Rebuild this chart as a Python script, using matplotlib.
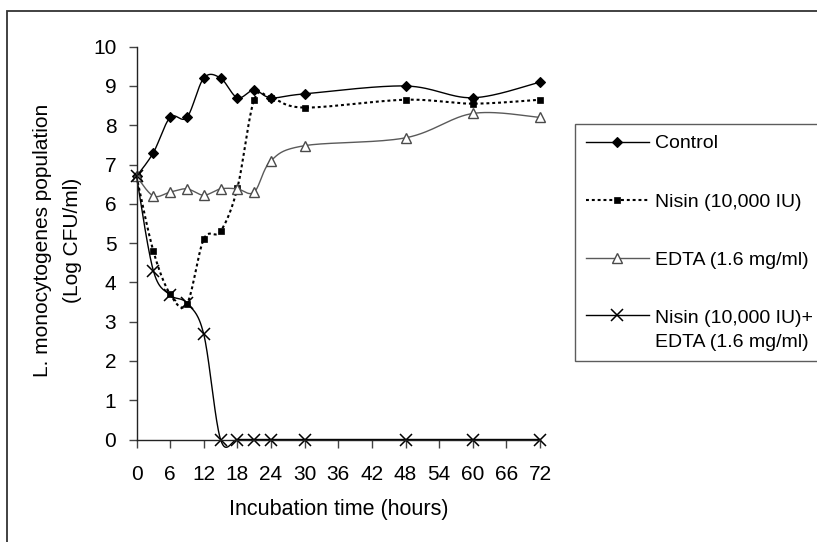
import numpy as np
import matplotlib
matplotlib.use('Agg')
import matplotlib.pyplot as plt
from matplotlib.patches import Rectangle

plt.rcParams['font.family'] = ['Liberation Sans', 'DejaVu Sans']

hours = [0, 3, 6, 9, 12, 15, 18, 21, 24, 30, 48, 60, 72]
control = [6.7, 7.3, 8.2, 8.2, 9.2, 9.2, 8.7, 8.9, 8.7, 8.8, 9.0, 8.7, 9.1]
nisin = [6.7, 4.8, 3.7, 3.45, 5.1, 5.3, 6.4, 8.65, 8.7, 8.45, 8.65, 8.55, 8.65]
edta = [6.7, 6.2, 6.3, 6.38, 6.22, 6.38, 6.38, 6.3, 7.1, 7.48, 7.68, 8.3, 8.2]
combo = [6.7, 4.3, 3.68, 3.47, 2.68, 0, 0, 0, 0, 0, 0, 0, 0]
series_labels = ['Control', 'Nisin (10,000 IU)', 'EDTA (1.6 mg/ml)',
                 'Nisin (10,000 IU)+\nEDTA (1.6 mg/ml)']
xticks = list(range(0, 73, 6))
yticks = list(range(0, 11))

W, H = 817, 542
fig = plt.figure(figsize=(W / 100, H / 100), dpi=100)
ax = fig.add_axes([136.5 / W, 1 - 439.5 / H, (540 - 136.5) / W, (439.5 - 46.7) / H])
ax.set_xlim(0, 72)
ax.set_ylim(0, 10)

# pixel scales used only to smooth the connecting curves (Excel-style)
SX = (540 - 136.5) / 72.0
SY = (439.5 - 46.7) / 10.0


def smooth(xs, ys, n=30):
    P = np.column_stack([np.asarray(xs, float) * SX, np.asarray(ys, float) * SY])
    m = len(P)
    out = []
    for i in range(m - 1):
        p0 = P[i - 1] if i > 0 else P[i]
        p1 = P[i]
        p2 = P[i + 1]
        p3 = P[i + 2] if i + 2 < m else P[i + 1]
        c1 = p1 + (p2 - p0) / 6.0
        c2 = p2 - (p3 - p1) / 6.0
        t = np.linspace(0, 1, n, endpoint=False)[:, None]
        seg = ((1 - t) ** 3) * p1 + 3 * ((1 - t) ** 2) * t * c1 + 3 * (1 - t) * t ** 2 * c2 + t ** 3 * p2
        out.append(seg)
    out.append(P[-1:])
    Q = np.vstack(out)
    return Q[:, 0] / SX, Q[:, 1] / SY, [i * n for i in range(m)]


styles = [
    dict(color='black', lw=1.0, ls='-', marker='D', ms=5.6, mfc='black', mec='black', mew=0.8),
    dict(color='black', lw=1.5, ls=(0, (1.4, 1.4)), marker='s', ms=4.3, mfc='black', mec='black', mew=0.5),
    dict(color='#5a5a5a', lw=1.0, ls='-', marker='^', ms=7.4, mfc='white', mec='#4a4a4a', mew=1.0),
    dict(color='black', lw=1.0, ls='-', marker='x', ms=8, mfc='black', mec='black', mew=1.1),
]
handles = []
for ys, st, lab in zip([control, nisin, edta, combo], styles, series_labels):
    sx, sy, idx = smooth(hours, ys)
    ln, = ax.plot(sx, sy, markevery=idx, label=lab, clip_on=False, **st)
    handles.append(ln)

for sp in ['top', 'right']:
    ax.spines[sp].set_visible(False)
for sp in ['left', 'bottom']:
    ax.spines[sp].set_color('#222222')
    ax.spines[sp].set_linewidth(1.0)

ax.set_xticks(xticks)
ax.set_yticks(yticks)
ax.set_xticklabels([str(v) for v in xticks])
ax.set_yticklabels([str(v) for v in yticks])
ax.tick_params(axis='both', direction='out', length=6, width=1.0, color='#444444',
               labelsize=15, labelcolor='black')
ax.tick_params(axis='x', pad=12)
ax.tick_params(axis='y', pad=8.5)

fig.text(57.5 / W, 1 - 240 / H, 'L. monocytogenes population\n(Log CFU/ml)', rotation=90,
         ha='center', va='center', multialignment='center', fontsize=15, linespacing=1.75)
fig.text(339 / W, 1 - 510 / H, 'Incubation time (hours)', ha='center', va='center', fontsize=15.5)

leg = ax.legend(handles=handles, loc='upper left', bbox_to_anchor=(575 / W, 1 - 124 / H),
                bbox_transform=fig.transFigure, fontsize=14, frameon=True, fancybox=False,
                edgecolor='#333333', handlelength=3.25, handletextpad=0.3, labelspacing=2.1,
                borderpad=0.55, borderaxespad=0, numpoints=1)
leg.get_frame().set_linewidth(1.0)
leg.get_texts()[3].set_linespacing(1.5)
# align the last key with the first line of its two-line label
last = leg.legend_handles[3]
last.set_ydata(np.asarray(last.get_ydata()) + 10.5)

fig.patches.append(Rectangle((7 / W, -0.05), 1.1, 1 - 11 / H + 0.05, transform=fig.transFigure,
                             fill=False, lw=1.3, ec='#333333'))

fig.savefig('out.png', dpi=100)
